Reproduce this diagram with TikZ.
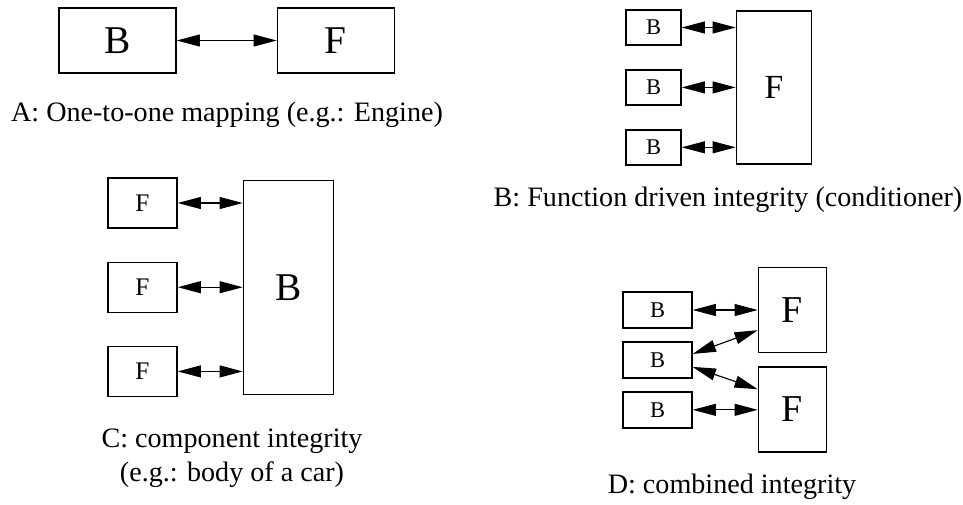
\documentclass[tikz,border=0pt]{standalone}
\usepackage{fontspec}
\setmainfont{Liberation Serif}
\usepackage{tikz}
\usetikzlibrary{arrows.meta,positioning,calc}
\tikzset{
  caixa/.style={rectangle, draw=black, line width=1pt, inner sep=0pt,
                align=center},
  letraGrande/.style={font=\fontsize{28}{30}\selectfont},
  letraMedia/.style={font=\fontsize{24}{26}\selectfont},
  letraPequena/.style={font=\fontsize{16}{18}\selectfont},
  legenda/.style={inner sep=0pt, align=center, font=\fontsize{20}{24}\selectfont},
  seta/.style={{Triangle[length=5.8mm,width=3mm]}-{Triangle[length=5.8mm,width=3mm]}, line width=0.8pt},
}

\begin{document}
\begin{tikzpicture}
  \useasboundingbox (0,0) rectangle (24.075,-12.6);
  % A: um para um
  \node[caixa, letraGrande, minimum width=2.925cm, minimum height=1.625cm] (bA) at (2.9375,-1.0125) {B};
  \node[caixa, letraGrande, minimum width=2.925cm, minimum height=1.625cm, right=2.5cm of bA] (fA) {F};
  \draw[seta] (bA)--(fA);
  \node[legenda, anchor=base] (legA) at (5.675,-3.025) {A: One-to-one mapping (e.g.: Engine)};

  % B: integridade dirigida pela funcao
  \node[caixa, letraPequena, minimum width=1.375cm, minimum height=0.875cm] (bB1) at (16.3375,-0.6875) {B};
  \node[caixa, letraPequena, minimum width=1.375cm, minimum height=0.875cm, below=0.5875cm of bB1] (bB2) {B};
  \node[caixa, letraPequena, minimum width=1.375cm, minimum height=0.875cm, below=0.5875cm of bB2] (bB3) {B};
  \node[caixa, letraMedia, minimum width=1.875cm, minimum height=3.825cm, right=1.35cm of bB2] (fB) {F};
  \draw[seta] (bB1.east)--(bB1.east -| fB.west);
  \draw[seta] (bB2.east)--(bB2.east -| fB.west);
  \draw[seta] (bB3.east)--(bB3.east -| fB.west);
  \node[legenda, anchor=base] (legB) at (18.2,-5.15) {B: Function driven integrity (conditioner)};

  % C: integridade de componente
  \node[caixa, font=\fontsize{18}{20}\selectfont, minimum width=1.725cm, minimum height=1.25cm] (fC1) at (3.5625,-5.075) {F};
  \node[caixa, font=\fontsize{18}{20}\selectfont, minimum width=1.725cm, minimum height=1.25cm, below=0.82cm of fC1] (fC2) {F};
  \node[caixa, font=\fontsize{18}{20}\selectfont, minimum width=1.725cm, minimum height=1.25cm, below=0.82cm of fC2] (fC3) {F};
  \node[caixa, letraGrande, minimum width=2.25cm, minimum height=5.35cm, right=1.625cm of fC2] (bC) {B};
  \draw[seta] (fC1.east)--(fC1.east -| bC.west);
  \draw[seta] (fC2.east)--(fC2.east -| bC.west);
  \draw[seta] (fC3.east)--(fC3.east -| bC.west);
  \node[legenda, anchor=base] (legC) at (5.8,-12.025) {C: component integrity\\(e.g.: body of a car)};

  % D: integridade combinada
  \node[caixa, letraPequena, minimum width=1.725cm, minimum height=0.9cm] (bD1) at (16.4375,-7.75) {B};
  \node[caixa, letraPequena, minimum width=1.725cm, minimum height=0.9cm, below=0.3125cm of bD1] (bD2) {B};
  \node[caixa, letraPequena, minimum width=1.725cm, minimum height=0.9cm, below=0.3125cm of bD2] (bD3) {B};
  \node[caixa, font=\fontsize{27}{29}\selectfont, minimum width=1.7cm, minimum height=2.125cm, right=1.625cm of bD1] (fD1) {F};
  \node[caixa, font=\fontsize{27}{29}\selectfont, minimum width=1.7cm, minimum height=2.125cm, below=0.325cm of fD1] (fD2) {F};
  \draw[seta] (bD1.east)--(bD1.east -| fD1.west);
  \draw[seta] ([yshift=0.15cm]bD2.east)--([yshift=0.575cm]fD1.south west);
  \draw[seta] ([yshift=-0.175cm]bD2.east)--([yshift=-0.575cm]fD2.north west);
  \draw[seta] (bD3.east)--(bD3.east -| fD2.west);
  \node[legenda, anchor=base] (legD) at (18.3,-12.325) {D: combined integrity};
\end{tikzpicture}
\end{document}
